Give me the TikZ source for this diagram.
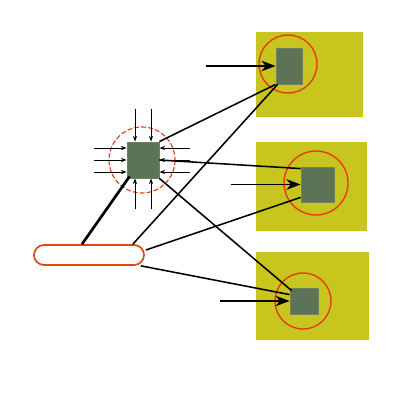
\documentclass[tikz,border=0pt]{standalone}
\usetikzlibrary{arrows.meta,calc}
\definecolor{padyellow}{RGB}{200,198,30}
\definecolor{chipgreen}{RGB}{92,115,88}
\definecolor{chipedge}{RGB}{112,132,92}
\definecolor{ringred}{RGB}{230,60,20}
\definecolor{busorange}{RGB}{222,72,12}
\begin{document}
\begin{tikzpicture}[x=0.025cm,y=-0.025cm,
  chip/.style={draw=chipedge,fill=chipgreen,line width=0.6pt,inner sep=0pt},
  wire/.style={line width=1.1pt},
  feed/.style={line width=1.1pt,-{Stealth[length=10pt,width=7.5pt,inset=3pt]}},
  pin/.style={line width=0.6pt,-{Stealth[length=4pt,width=3pt]}}]
  \useasboundingbox (0,0) rectangle (400,400);
  \fill[padyellow] (256,32) rectangle (363,117);
  \fill[padyellow] (256,142) rectangle (367,231);
  \fill[padyellow] (256,252) rectangle (369,340);
  \draw[ringred,line width=1pt] (288,64) circle [radius=29];
  \draw[ringred,line width=1pt] (316,183) circle [radius=32];
  \draw[ringred,line width=1pt] (303,301) circle [radius=28];

  \node[chip,minimum width=0.65cm,minimum height=0.9cm] (cellA) at (289,66) {};
  \node[chip,minimum width=0.825cm,minimum height=0.875cm] (cellB) at (317.5,184.5) {};
  \node[chip,minimum width=0.7cm,minimum height=0.65cm] (cellC) at (304,301) {};
  \node[chip,minimum width=0.8cm,minimum height=0.9cm] (hub) at (143,160) {};
  \draw[ringred,line width=0.8pt,dash pattern=on 3.5pt off 1.5pt] (142,160) circle [radius=33];
  \node[draw=busorange,fill=white,line width=1.2pt,minimum width=2.75cm,minimum height=0.5cm,
    rounded corners=0.25cm,inner sep=0pt] (bus) at (89,255) {};

  % pins on the hub
  \foreach \dx in {-8,8} {
    \draw[pin] ($(hub.north)+(\dx,-33)$) -- ($(hub.north)+(\dx,0)$);
    \draw[pin] ($(hub.south)+(\dx,31)$) -- ($(hub.south)+(\dx,0)$);
  }
  \foreach \dy in {-12,0,12} {
    \draw[pin] ($(hub.west)+(-33,\dy)$) -- ($(hub.west)+(0,\dy)$);
    \draw[pin] ($(hub.east)+(31,\dy)$) -- ($(hub.east)+(0,\dy)$);
  }

  % feeds into the cells
  \coordinate (inA) at (206,66);
  \coordinate (inB) at (231,184.5);
  \coordinate (inC) at (220,301);
  \draw[feed] (inA) -- (cellA.west);
  \draw[feed] (inB) -- (cellB.west);
  \draw[feed] (inC) -- (cellC.west);

  % wiring
  \draw[wire] (hub.north east) -- (cellA.south west);
  \draw[wire] ($(bus.north east)+(-12,0)$) -- ($(cellA.south west)+(2,0)$);
  \draw[wire] (hub.east) -- ($(cellB.north west)+(0,2)$);
  \draw[wire] ($(bus.east)+(1,-5)$) -- ($(cellB.south west)+(0,-5)$);
  \draw[wire] (hub.south east) -- ($(cellC.north west)+(2,3)$);
  \draw[wire] ($(bus.south east)+(-4,0)$) -- ($(cellC.north west)+(0,7)$);
  \draw[line width=1.9pt] ($(bus.north)+(-7,0)$) -- ($(hub.south west)+(3,-2)$);
\end{tikzpicture}
\end{document}
